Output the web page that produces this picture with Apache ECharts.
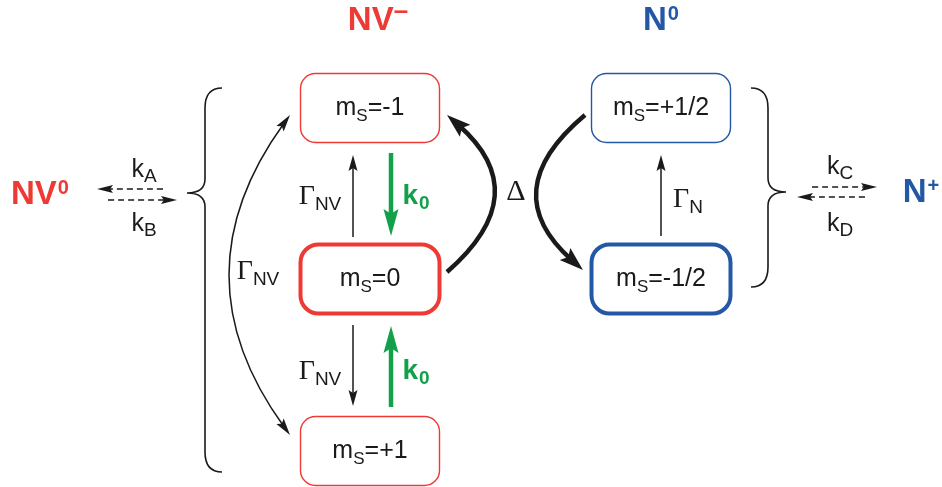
<!DOCTYPE html>
<html><head><meta charset="utf-8">
<script src="https://cdn.jsdelivr.net/npm/echarts@6/dist/echarts.min.js"></script>
<style>html,body{margin:0;padding:0;background:#fff}#c{width:942px;height:487px}</style>
</head><body><div id="c"></div>
<script>
// ---------- data ----------
// spin states (boxes)
const boxLabels = ['-1', '0', '+1', '+1/2', '-1/2'];
const boxX = [370, 370, 370, 661, 661];
const boxY = [108, 279, 451, 108, 279];
const boxKind = ['redThin', 'redThick', 'redThin', 'blueThin', 'blueThick'];

// transitions (arrows)
const arrowFrom = [[353,237],[391,153],[353,325],[391,407],[661,236],[290,115],[447,272],[585,115],[163,189],[108,200],[812,187],[865,197]];
const arrowTo   = [[353,155],[391,236],[353,406],[391,326],[661,155],[290,435],[447,115],[583,270],[97,189],[177,200],[877,187],[797,197]];
const arrowBend = [0, 0, 0, 0, 0, 58, 45, 45, 0, 0, 0, 0];
const arrowKind = ['thin','green','thin','green','thin','double','thick','thick','dash','dash','dash','dash'];

// braces grouping the charge states
const braceX = [205, 768];
const braceTop = [88, 88];
const braceTip = [193, 192];
const braceBottom = [472, 287];
const braceSide = [-1, 1];

// text labels
const labelText = ['{b|NV}{bm|–}', '{b|N}{bs|0}', '{b|NV}{bs|0}', '{b|N}{bs|+}',
  '{k|k}{ks|A}', '{k|k}{ks|B}', '{k|k}{ks|C}', '{k|k}{ks|D}',
  '{g|Γ}{gs|NV}', '{g|Γ}{gs|NV}', '{g|Γ}{gs|NV}',
  '{kb|k}{kbs|0}', '{kb|k}{kbs|0}', '{d|Δ}', '{g|Γ}{gs|N}'];
const labelX = [378, 661, 40, 921, 144, 144, 840, 840, 320, 320, 258, 416, 416, 516, 688];
const labelY = [21, 21, 195, 193, 170, 224, 167, 224, 197, 372, 272, 196, 371, 192, 200];
const labelColor = ['red','blue','red','blue','black','black','black','black','black','black','black','green','green','black','black'];

// ---------- styles ----------
const COLORS = { red: '#EE3A34', blue: '#2458A6', green: '#12A04B', black: '#1a1a1a' };
const SANS = 'Liberation Sans, Arial, sans-serif';
const SERIF = 'Liberation Serif, Times New Roman, serif';
const BOX_STYLE = {
  redThin:  { color: COLORS.red,  lw: 1.4, r: 15 },
  redThick: { color: COLORS.red,  lw: 4,   r: 18 },
  blueThin: { color: COLORS.blue, lw: 1.4, r: 15 },
  blueThick:{ color: COLORS.blue, lw: 4,   r: 18 }
};
const BOX_W = 139, BOX_H = 69;
const ARROW_STYLE = {
  thin:   { color: COLORS.black, lw: 1.5, L: 16, W: 4.5 },
  green:  { color: COLORS.green, lw: 4.5, L: 27, W: 7.5 },
  thick:  { color: COLORS.black, lw: 4.5, L: 24, W: 8 },
  double: { color: COLORS.black, lw: 1.5, L: 17, W: 4.5, both: true },
  dash:   { color: COLORS.black, lw: 1.5, L: 16, W: 4, dash: [6, 4] }
};
const RICH = {
  b:   { fontSize: 33, fontWeight: 'bold', fontFamily: SANS },
  bs:  { fontSize: 20, fontWeight: 'bold', fontFamily: SANS, padding: [0, 0, 13, 1] },
  bm:  { fontSize: 26, fontWeight: 'bold', fontFamily: SANS, padding: [0, 0, 18, 0] },
  k:   { fontSize: 25, fontFamily: SANS },
  ks:  { fontSize: 19, fontFamily: SANS, padding: [14, 0, 0, 0] },
  kb:  { fontSize: 28, fontWeight: 'bold', fontFamily: SANS },
  kbs: { fontSize: 19, fontWeight: 'bold', fontFamily: SANS, padding: [16, 0, 0, 1] },
  g:   { fontSize: 28, fontFamily: SERIF },
  d:   { fontSize: 30, fontFamily: SERIF },
  gs:  { fontSize: 19, fontFamily: SANS, padding: [15, 0, 0, 0] },
  m:   { fontSize: 25, fontFamily: SANS },
  s:   { fontSize: 17, fontFamily: SANS, padding: [16, 0, 0, 0] }
};

function head(tip, t, L, W, color) {
  const bx = tip[0] - t[0] * L, by = tip[1] - t[1] * L;
  const nx = tip[0] - t[0] * L * 0.82, ny = tip[1] - t[1] * L * 0.82;
  const m = [-t[1], t[0]];
  return { type: 'polygon', shape: { points: [tip, [bx + m[0] * W, by + m[1] * W], [nx, ny], [bx - m[0] * W, by - m[1] * W]] },
           style: { fill: color, stroke: null } };
}
function unit(v) { const l = Math.hypot(v[0], v[1]); return [v[0] / l, v[1] / l]; }

const chart = echarts.init(document.getElementById('c'), null, { renderer: 'canvas' });
chart.setOption({
  animation: false,
  backgroundColor: '#ffffff',
  grid: { left: 0, right: 0, top: 0, bottom: 0 },
  xAxis: { type: 'value', min: 0, max: 942, show: false },
  yAxis: { type: 'value', min: 0, max: 487, inverse: true, show: false },
  series: [
    { // braces
      type: 'custom', coordinateSystem: 'cartesian2d', silent: true,
      data: braceX.map((x, i) => [x, braceTop[i], braceTip[i], braceBottom[i], braceSide[i]]),
      renderItem: function (params, api) {
        const X = api.coord([api.value(0), 0])[0];
        const s = api.value(4);
        const top = api.coord([0, api.value(1)])[1], tip = api.coord([0, api.value(2)])[1], bot = api.coord([0, api.value(3)])[1];
        const arm = X - s * 17, tx = X + s * 18, r = 20, rt = 14;
        const d = `M${arm},${top} Q${X},${top} ${X},${top + r} L${X},${tip - rt} Q${X},${tip} ${tx},${tip} Q${X},${tip} ${X},${tip + rt} L${X},${bot - r} Q${X},${bot} ${arm},${bot}`;
        return { type: 'path', shape: { pathData: d }, style: { fill: null, stroke: COLORS.black, lineWidth: 1.6 } };
      }
    },
    { // arrows
      type: 'custom', coordinateSystem: 'cartesian2d', silent: true,
      data: arrowFrom.map((p, i) => [p[0], p[1], arrowTo[i][0], arrowTo[i][1], arrowBend[i]]),
      renderItem: function (params, api) {
        const st = ARROW_STYLE[arrowKind[params.dataIndex]];
        const p0 = api.coord([api.value(0), api.value(1)]);
        const p1 = api.coord([api.value(2), api.value(3)]);
        const bend = api.value(4);
        const dx = p1[0] - p0[0], dy = p1[1] - p0[1], len = Math.hypot(dx, dy);
        const n = [-dy / len, dx / len];
        const cp = [(p0[0] + p1[0]) / 2 + n[0] * 2 * bend, (p0[1] + p1[1]) / 2 + n[1] * 2 * bend];
        const t1 = unit([p1[0] - cp[0], p1[1] - cp[1]]);
        const t0 = unit([p0[0] - cp[0], p0[1] - cp[1]]);
        const s1 = [p1[0] - t1[0] * st.L * 0.6, p1[1] - t1[1] * st.L * 0.6];
        const s0 = st.both ? [p0[0] - t0[0] * st.L * 0.6, p0[1] - t0[1] * st.L * 0.6] : p0;
        const children = [{
          type: 'bezierCurve',
          shape: { x1: s0[0], y1: s0[1], x2: s1[0], y2: s1[1], cpx1: cp[0], cpy1: cp[1] },
          style: { fill: null, stroke: st.color, lineWidth: st.lw, lineDash: st.dash || null }
        }, head(p1, t1, st.L, st.W, st.color)];
        if (st.both) children.push(head(p0, t0, st.L, st.W, st.color));
        return { type: 'group', children: children };
      }
    },
    { // state boxes
      type: 'custom', coordinateSystem: 'cartesian2d', silent: true,
      data: boxX.map((x, i) => [x, boxY[i]]),
      renderItem: function (params, api) {
        const i = params.dataIndex;
        const st = BOX_STYLE[boxKind[i]];
        const c = api.coord([api.value(0), api.value(1)]);
        return { type: 'group', children: [
          { type: 'rect', shape: { x: c[0] - BOX_W / 2, y: c[1] - BOX_H / 2, width: BOX_W, height: BOX_H, r: st.r },
            style: { fill: '#ffffff', stroke: st.color, lineWidth: st.lw } },
          { type: 'text', x: c[0], y: c[1],
            style: { text: '{m|m}{s|S}{m|=' + boxLabels[i] + '}', rich: RICH, fill: '#1a1a1a', align: 'center', verticalAlign: 'middle' } }
        ] };
      }
    },
    { // labels
      type: 'custom', coordinateSystem: 'cartesian2d', silent: true,
      data: labelX.map((x, i) => [x, labelY[i]]),
      renderItem: function (params, api) {
        const i = params.dataIndex;
        const c = api.coord([api.value(0), api.value(1)]);
        return { type: 'text', x: c[0], y: c[1],
          style: { text: labelText[i], rich: RICH, fill: COLORS[labelColor[i]], align: 'center', verticalAlign: 'middle' } };
      }
    }
  ]
});
</script></body></html>
